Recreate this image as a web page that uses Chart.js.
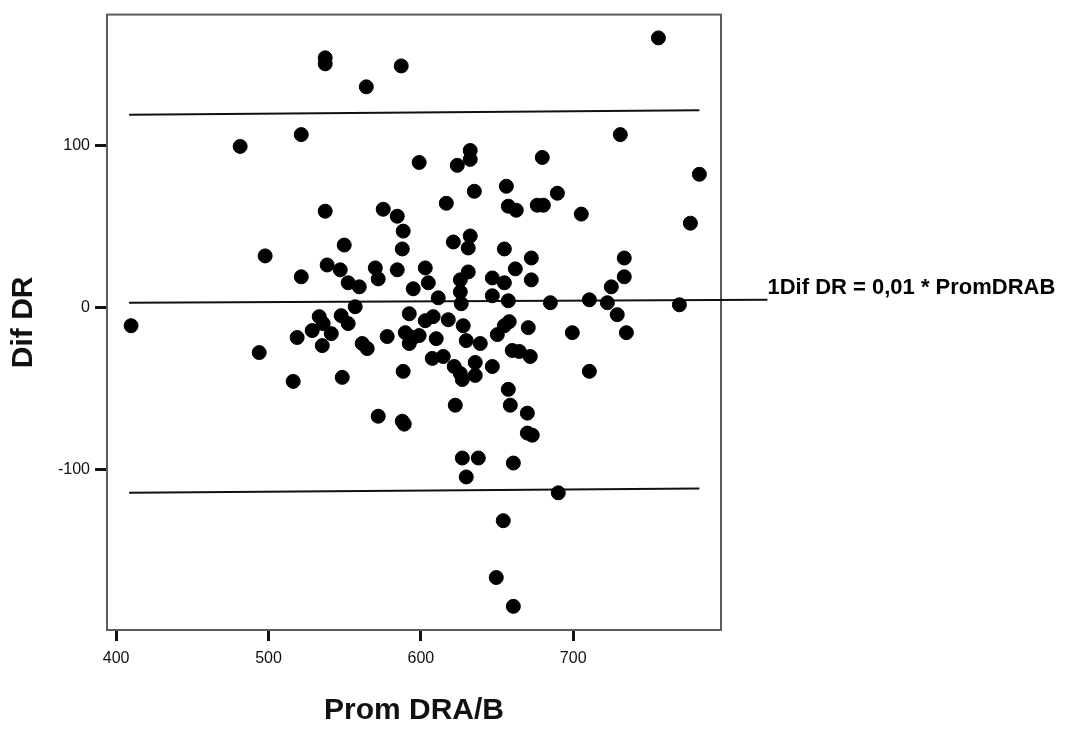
<!DOCTYPE html>
<html>
<head>
<meta charset="utf-8">
<script src="https://cdn.jsdelivr.net/npm/chart.js@4/dist/chart.umd.min.js"></script>
<style>
  html, body { margin: 0; padding: 0; background: #ffffff; }
  #wrap { width: 1074px; height: 729px; position: relative; }
</style>
</head>
<body>
<div id="wrap"><canvas id="c" width="1074" height="729"></canvas></div>
<script>
// Scatter points: Prom DRA/B (x) vs Dif DR (y)
const promDRAB = [
  409.8, 481.4, 497.8, 493.9, 516.2, 521.5, 521.5, 518.8, 528.7, 533.3,
  535.9, 537.2, 537.2, 537.2, 538.5, 535.3, 541.2, 547.1, 547.7, 552.3,
  548.4, 549.7, 552.3, 559.6, 556.9, 561.5, 564.8, 564.2, 570.1, 572.0,
  575.3, 584.5, 588.4, 587.8, 584.5, 587.1, 595.0, 602.9, 604.9, 598.9,
  611.4, 616.7, 621.3, 632.4, 631.1, 632.4, 632.4, 623.9, 635.1, 656.1,
  657.4, 662.6, 676.4, 680.4, 679.7, 689.6, 654.8, 672.5, 631.1, 625.9,
  625.9, 626.5, 646.9, 646.9, 654.8, 662.0, 657.4, 672.5, 685.0, 592.4,
  602.9, 608.1, 618.0, 627.8, 577.9, 589.8, 595.0, 598.9, 592.4, 610.1,
  629.8, 639.0, 650.2, 654.8, 658.0, 670.5, 607.5, 614.7, 621.9, 625.9,
  627.2, 635.7, 635.7, 646.9, 660.0, 664.6, 671.8, 588.4, 657.4, 658.7,
  622.6, 669.9, 669.9, 673.1, 572.0, 587.8, 589.1, 627.2, 637.7, 629.8,
  660.7, 654.1, 649.5, 660.7, 699.4, 705.3, 710.6, 710.6, 722.4, 725.0,
  728.9, 733.5, 733.5, 734.9, 730.9, 755.9, 769.7, 776.9, 782.8, 690.2
];
const difDR = [
  -11.1, 99.6, 32.0, -27.7, -45.5, 106.9, 19.1, -18.4, -14.1, -5.5,
  -9.8, 154.3, 150.6, 59.6, 26.4, -23.4, -16.0, 23.4, -4.9, -9.8,
  -43.0, 38.7, 15.4, 12.9, 0.6, -22.1, -25.2, 136.4, 24.6, 17.8,
  60.8, 56.5, 47.3, 36.3, 23.4, 149.3, 11.7, 24.6, 15.4, 89.7,
  6.1, 64.5, 40.6, 44.3, 36.9, 97.1, 91.6, 87.9, 71.9, 75.0,
  62.7, 60.2, 63.3, 63.3, 92.8, 70.7, 36.3, 30.7, 22.1, 17.2,
  9.8, 2.5, 18.4, 7.4, 15.4, 24.0, 4.3, 17.2, 3.1, -3.7,
  -8.0, -5.5, -7.4, -11.1, -17.8, -15.4, -18.4, -17.2, -22.1, -19.1,
  -20.3, -22.1, -16.6, -11.1, -8.6, -12.3, -31.3, -30.1, -36.3, -40.6,
  -44.3, -33.8, -41.8, -36.3, -26.4, -27.0, -30.1, -39.3, -50.4, -60.2,
  -60.2, -65.1, -77.4, -78.7, -67.0, -70.1, -71.9, -92.8, -92.8, -104.5,
  -95.9, -131.5, -166.6, -184.4, -15.4, 57.8, 4.9, -39.3, 3.1, 12.9,
  -4.3, 30.7, 19.1, -15.4, 106.9, 166.6, 1.8, 52.2, 82.4, -114.3
];

// Reference lines (upper limit, fit line, lower limit)
const upperX = [408.5, 782.8];
const upperY = [119.2, 121.9];
const fitX = [408.5, 827.5];
const fitY = [3.1, 5.0];
const lowerX = [408.5, 782.8];
const lowerY = [-114.3, -111.6];

const fitLabel = "1Dif DR = 0,01 * PromDRAB";
const xTitle = "Prom DRA/B";
const yTitle = "Dif DR";
const xTickValues = [400, 500, 600, 700];
const yTickValues = [-100, 0, 100];

const pts = (xs, ys) => xs.map((x, i) => ({ x: x, y: ys[i] }));

const boxPlugin = {
  id: 'boxPlugin',
  beforeDatasetsDraw(chart) {
    const { ctx, chartArea: a } = chart;
    ctx.save();
    ctx.strokeStyle = '#5c5c5c';
    ctx.lineWidth = 2;
    ctx.strokeRect(a.left, a.top, a.right - a.left, a.bottom - a.top);
    ctx.restore();
  },
  afterDatasetsDraw(chart) {
    const { ctx, scales } = chart;
    const px = scales.x.getPixelForValue(fitX[1]);
    const py = scales.y.getPixelForValue(fitY[1]);
    ctx.save();
    ctx.fillStyle = '#000';
    ctx.font = 'bold 22px "Liberation Sans", Arial, sans-serif';
    ctx.textAlign = 'left';
    ctx.textBaseline = 'middle';
    ctx.fillText(fitLabel, px, py - 12);
    ctx.restore();
  }
};

const lineDs = (xs, ys, extra) => Object.assign({
  type: 'line',
  data: pts(xs, ys),
  borderColor: '#111',
  borderWidth: 2,
  pointRadius: 0,
  fill: false,
  tension: 0
}, extra || {});

new Chart(document.getElementById('c'), {
  type: 'scatter',
  data: {
    datasets: [
      {
        data: pts(promDRAB, difDR),
        backgroundColor: '#000',
        borderColor: '#000',
        borderWidth: 1,
        pointRadius: 7,
        pointHoverRadius: 7
      },
      lineDs(upperX, upperY),
      lineDs(fitX, fitY, { clip: false }),
      lineDs(lowerX, lowerY)
    ]
  },
  options: {
    responsive: false,
    animation: false,
    devicePixelRatio: 1,
    layout: { padding: { left: 0, top: 11, right: 353, bottom: 0 } },
    plugins: { legend: { display: false }, tooltip: { enabled: false } },
    scales: {
      x: {
        type: 'linear',
        min: 394,
        max: 797,
        afterFit(s) { s.height = 99; },
        afterBuildTicks(s) { s.ticks = xTickValues.map(v => ({ value: v })); },
        border: { display: false },
        grid: { drawOnChartArea: false, drawTicks: true, tickLength: 11, tickWidth: 3, tickColor: '#111' },
        ticks: { color: '#111', padding: 8, font: { family: '"Liberation Sans", Arial, sans-serif', size: 16 }, maxRotation: 0 },
        title: { display: true, text: xTitle, color: '#111', padding: { top: 0, bottom: 0 }, font: { family: '"Liberation Sans", Arial, sans-serif', size: 30, weight: 'bold' } }
      },
      y: {
        type: 'linear',
        min: -199,
        max: 181,
        afterFit(s) { s.width = 107; },
        afterBuildTicks(s) { s.ticks = yTickValues.map(v => ({ value: v })); },
        border: { display: false },
        grid: { drawOnChartArea: false, drawTicks: true, tickLength: 12, tickWidth: 3, tickColor: '#111' },
        ticks: { color: '#111', padding: 5, font: { family: '"Liberation Sans", Arial, sans-serif', size: 16 } },
        title: { display: true, text: yTitle, color: '#111', padding: { top: 6, bottom: 0 }, font: { family: '"Liberation Sans", Arial, sans-serif', size: 30, weight: 'bold' } }
      }
    }
  },
  plugins: [boxPlugin]
});
</script>
</body>
</html>
